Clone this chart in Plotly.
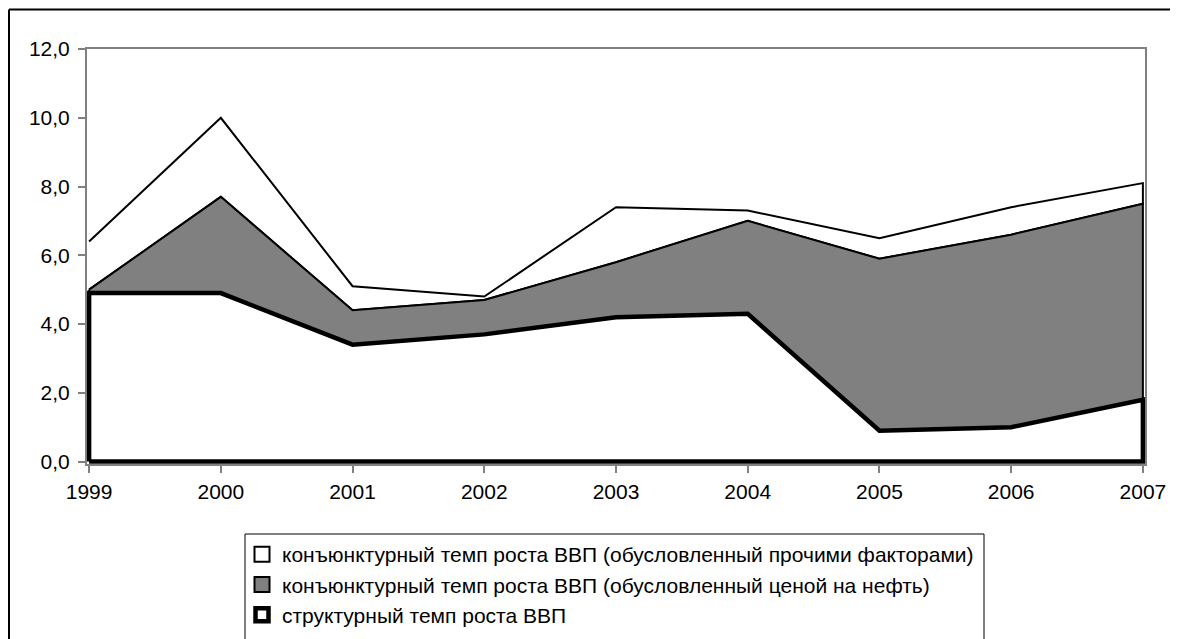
import plotly.graph_objects as go

years = [1999, 2000, 2001, 2002, 2003, 2004, 2005, 2006, 2007]
structural = [4.9, 4.9, 3.4, 3.7, 4.2, 4.3, 0.9, 1.0, 1.8]
oil_part = [0.1, 2.8, 1.0, 1.0, 1.6, 2.7, 5.0, 5.6, 5.7]
other_part = [1.4, 2.3, 0.7, 0.1, 1.6, 0.3, 0.6, 0.8, 0.6]

names = [
    "конъюнктурный темп роста ВВП (обусловленный прочими факторами)",
    "конъюнктурный темп роста ВВП (обусловленный ценой на нефть)",
    "структурный темп роста ВВП",
]
y_tickvals = [0, 2, 4, 6, 8, 10, 12]
y_ticktext = ["0,0", "2,0", "4,0", "6,0", "8,0", "10,0", "12,0"]

# cumulative levels
lvl1 = structural
lvl2 = [a + b for a, b in zip(lvl1, oil_part)]
lvl3 = [a + b for a, b in zip(lvl2, other_part)]
zeros = [0] * len(years)

FONT = "Liberation Sans, Arial, sans-serif"
fig = go.Figure()

# total area (other factors on top) - white with thin line
fig.add_trace(go.Scatter(
    x=years + years[::-1], y=lvl3 + lvl2[::-1], fill="toself", fillcolor="white",
    mode="lines", line=dict(color="black", width=2), showlegend=False, hoverinfo="skip"))
# oil area - gray
fig.add_trace(go.Scatter(
    x=years + years[::-1] + [years[0]], y=lvl2 + lvl1[::-1] + [lvl2[0]], fill="toself",
    fillcolor="#808080", mode="lines", line=dict(color="black", width=2),
    showlegend=False, hoverinfo="skip"))
# structural area - white with thick border
fig.add_trace(go.Scatter(
    x=[years[0]] + years + years[::-1], y=[0] + lvl1 + zeros[::-1], fill="toself",
    fillcolor="white", mode="lines", line=dict(color="black", width=4.5),
    showlegend=False, hoverinfo="skip"))

# legend entries
styles = [("white", 2, 15), ("#808080", 2, 15), ("white", 4.5, 13)]
for i, (nm, (fc, lw, sz)) in enumerate(zip(names, styles)):
    fig.add_trace(go.Scatter(
        x=[None], y=[None], mode="markers", name=nm, legendgroup=str(i),
        marker=dict(symbol="square", size=sz, color=fc, line=dict(color="black", width=lw))))

OFF = 8  # page body margin
W, H = 1178 - OFF, 639 - OFF
L, T = 87 - OFF, 49 - OFF
R = W - (1145 - OFF)
B = H - (464 - OFF)
pw, ph = W - L - R, H - T - B


def px(x):
    return (x - OFF - L) / pw


def py(y):
    return (H + OFF - B - y) / ph


shapes = [
    # outer chart border (top and left visible)
    dict(type="line", xref="paper", yref="paper", x0=px(9), x1=px(1200), y0=py(9.5), y1=py(9.5),
         line=dict(color="black", width=2)),
    dict(type="line", xref="paper", yref="paper", x0=px(9), x1=px(9), y0=py(9.5), y1=py(660),
         line=dict(color="black", width=2)),
    # legend box
    dict(type="rect", xref="paper", yref="paper", x0=px(245), x1=px(984), y0=py(534), y1=py(660),
         line=dict(color="black", width=1), fillcolor="rgba(0,0,0,0)"),
]

fig.update_layout(
    width=W, height=H,
    margin=dict(l=L, r=R, t=T, b=B, pad=0, autoexpand=False),
    paper_bgcolor="white", plot_bgcolor="white",
    font=dict(family=FONT, size=21, color="black"),
    showlegend=True,
    legend=dict(x=px(242), y=py(534), xanchor="left", yanchor="top",
                font=dict(family=FONT, size=21, color="black"),
                bgcolor="rgba(0,0,0,0)", borderwidth=0,
                traceorder="grouped", tracegroupgap=0, itemwidth=30),
    shapes=shapes,
    xaxis=dict(range=[1999 - 0.016, 2007 + 0.016], tickvals=years, ticktext=[str(y) for y in years],
               showgrid=False, zeroline=False, showline=True, linecolor="#808080", linewidth=2,
               mirror=True, ticks="outside", ticklen=7, tickcolor="#808080", tickwidth=1.5,
               ticklabelstandoff=1, automargin=False,
               tickfont=dict(family=FONT, size=21, color="black")),
    yaxis=dict(range=[-0.07, 12], tickvals=y_tickvals, ticktext=y_ticktext,
               showgrid=False, zeroline=False, showline=True, linecolor="#808080", linewidth=2,
               mirror=True, ticks="outside", ticklen=7, tickcolor="#808080", tickwidth=1.5,
               ticklabelstandoff=4, automargin=False,
               tickfont=dict(family=FONT, size=21, color="black")),
)

fig.write_html("out.html")
